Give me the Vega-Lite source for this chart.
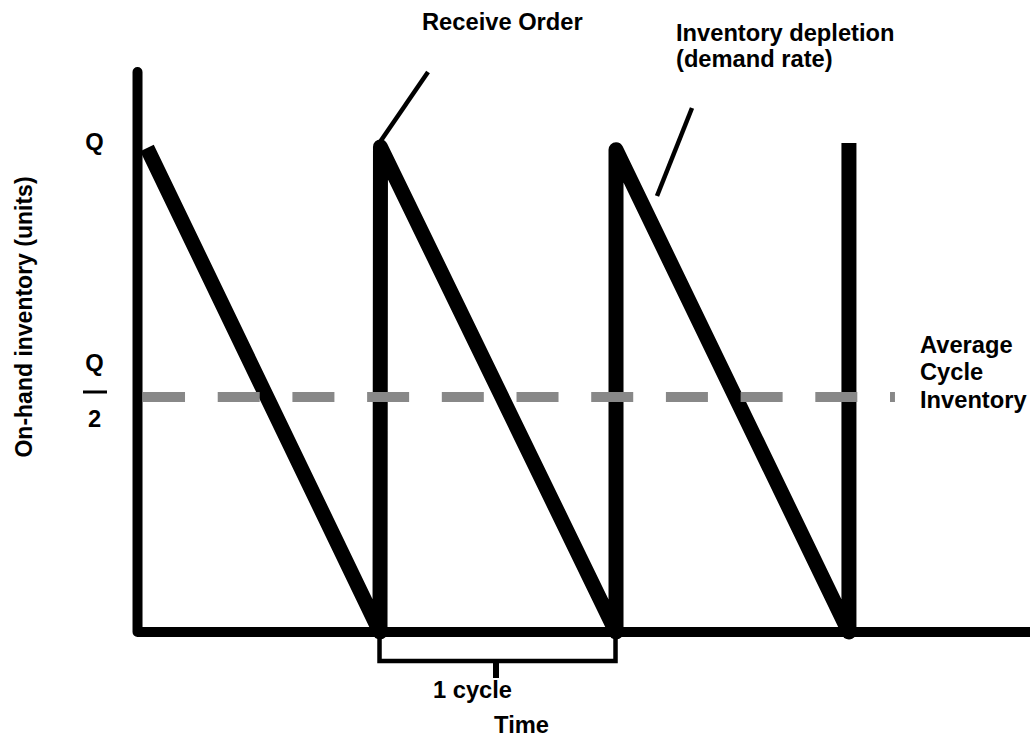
{
  "$schema": "https://vega.github.io/schema/vega-lite/v6.json",
  "width": 1030,
  "height": 740,
  "padding": 0,
  "autosize": {"type": "none"},
  "background": "white",
  "config": {"view": {"stroke": null}, "font": "Liberation Sans"},
  "datasets": {
    "axes": [
      {"i": 0, "t": -0.0275, "v": 1.15},
      {"i": 1, "t": -0.0275, "v": 0},
      {"i": 2, "t": 3.76, "v": 0}
    ],
    "saw": [
      {"i": 0, "t": 0.0127, "v": 0.994},
      {"i": 1, "t": 1.0, "v": 0},
      {"i": 2, "t": 1.002, "v": 0.996},
      {"i": 3, "t": 2.0, "v": 0},
      {"i": 4, "t": 2.0, "v": 0.99},
      {"i": 5, "t": 2.987, "v": 0},
      {"i": 6, "t": 2.987, "v": 1.004}
    ],
    "average": [
      {"t": -0.0042, "v": 0.4825},
      {"t": 3.182, "v": 0.4825}
    ],
    "callouts": [
      {"part": "receive", "i": 0, "t": 1.0, "v": 1.006},
      {"part": "receive", "i": 1, "t": 1.2034, "v": 1.15},
      {"part": "depletion", "i": 0, "t": 2.1737, "v": 0.8953},
      {"part": "depletion", "i": 1, "t": 2.322, "v": 1.076}
    ],
    "bracket": [
      {"i": 0, "t": 0.9979, "v": -0.0123},
      {"i": 1, "t": 0.9979, "v": -0.0595},
      {"i": 2, "t": 1.9979, "v": -0.0595},
      {"i": 3, "t": 1.9979, "v": -0.0123}
    ],
    "tick": [
      {"i": 0, "t": 1.4915, "v": -0.0595},
      {"i": 1, "t": 1.4915, "v": -0.0945}
    ],
    "fraction": [
      {"i": 0, "t": -0.2585, "v": 0.4928},
      {"i": 1, "t": -0.1568, "v": 0.4928}
    ],
    "labelsLeft": [
      {"label": "Receive Order", "t": 1.178, "v": 1.2361},
      {"label": "Inventory depletion", "t": 2.2542, "v": 1.2136},
      {"label": "(demand rate)", "t": 2.2542, "v": 1.1602},
      {"label": "Average", "t": 3.2881, "v": 0.5729},
      {"label": "Cycle", "t": 3.2881, "v": 0.5175},
      {"label": "Inventory", "t": 3.2881, "v": 0.46}
    ],
    "labelsCenter": [
      {"label": "Q", "t": -0.2097, "v": 0.9897},
      {"label": "Q", "t": -0.2097, "v": 0.5359},
      {"label": "2", "t": -0.2097, "v": 0.4209},
      {"label": "1 cycle", "t": 1.3919, "v": -0.1355},
      {"label": "Time", "t": 1.5996, "v": -0.2074}
    ],
    "ytitle": [
      {"label": "On-hand inventory (units)", "t": -0.4746, "v": 0.6468}
    ]
  },
  "encoding": {
    "x": {"field": "t", "type": "quantitative", "scale": {"domain": [-0.6102, 3.7542], "nice": false, "zero": false}, "axis": null},
    "y": {"field": "v", "type": "quantitative", "scale": {"domain": [-0.2218, 1.2977], "nice": false, "zero": false}, "axis": null}
  },
  "layer": [
    {
      "data": {"name": "axes"},
      "mark": {"type": "line", "color": "black", "strokeWidth": 10, "strokeCap": "round", "strokeJoin": "round", "clip": false},
      "encoding": {"order": {"field": "i"}}
    },
    {
      "data": {"name": "saw"},
      "mark": {"type": "line", "color": "black", "strokeWidth": 15, "strokeCap": "butt", "strokeJoin": "round"},
      "encoding": {"order": {"field": "i"}}
    },
    {
      "data": {"name": "average"},
      "mark": {"type": "line", "color": "#888888", "strokeWidth": 10, "strokeCap": "butt", "strokeDash": [42, 32.7]},
      "encoding": {}
    },
    {
      "data": {"name": "callouts"},
      "mark": {"type": "line", "color": "black", "strokeWidth": 4.5, "strokeCap": "butt"},
      "encoding": {"detail": {"field": "part"}, "order": {"field": "i"}}
    },
    {
      "data": {"name": "bracket"},
      "mark": {"type": "line", "color": "black", "strokeWidth": 4.5, "strokeCap": "butt", "strokeJoin": "miter"},
      "encoding": {"order": {"field": "i"}}
    },
    {
      "data": {"name": "tick"},
      "mark": {"type": "line", "color": "black", "strokeWidth": 6, "strokeCap": "butt"},
      "encoding": {"order": {"field": "i"}}
    },
    {
      "data": {"name": "fraction"},
      "mark": {"type": "line", "color": "black", "strokeWidth": 3, "strokeCap": "butt"},
      "encoding": {"order": {"field": "i"}}
    },
    {
      "data": {"name": "labelsLeft"},
      "mark": {"type": "text", "align": "left", "baseline": "alphabetic", "fontSize": 23.7, "fontWeight": "bold", "color": "black"},
      "encoding": {"text": {"field": "label"}}
    },
    {
      "data": {"name": "labelsCenter"},
      "mark": {"type": "text", "align": "center", "baseline": "alphabetic", "fontSize": 23.7, "fontWeight": "bold", "color": "black"},
      "encoding": {"text": {"field": "label"}}
    },
    {
      "data": {"name": "ytitle"},
      "mark": {"type": "text", "align": "center", "baseline": "alphabetic", "angle": 270, "fontSize": 23, "fontWeight": "bold", "color": "black"},
      "encoding": {"text": {"field": "label"}}
    }
  ]
}
